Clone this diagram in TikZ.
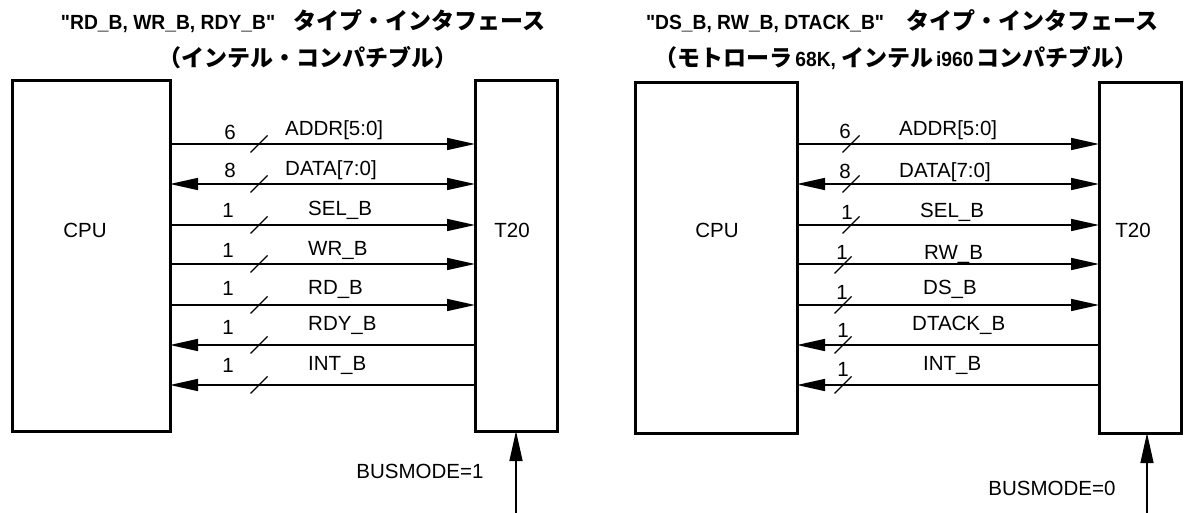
\documentclass[tikz,border=0pt]{standalone}
\usepackage{fontspec}
\setmainfont{Liberation Sans}[Ligatures=TeXOff]
\newfontfamily\jp{Noto Sans CJK JP}
\newfontfamily\ttlfont{Liberation Sans}[Ligatures=TeXOff, FakeStretch=0.94]
\usetikzlibrary{arrows.meta}
\tikzset{
  box/.style={draw, line width=3pt, inner sep=0pt, outer sep=0pt},
  lbl/.style={font=\fontsize{20.5}{24}\selectfont, inner sep=0pt, anchor=base west},
  num/.style={font=\fontsize{20.5}{24}\selectfont, inner sep=0pt, anchor=base},
  ttl/.style={font=\ttlfont\fontsize{20.5}{22}\selectfont\bfseries, inner sep=0pt, anchor=base},
  bus/.style={line width=1.6pt},
  tipR/.style={-{Triangle[length=28pt,width=12pt]}},
  tipL/.style={{Triangle[length=28pt,width=12pt]}-},
  tipB/.style={{Triangle[length=28pt,width=12pt]}-{Triangle[length=28pt,width=12pt]}},
  slash/.style={line width=1.3pt},
  mode/.style={line width=1.3pt, -{Triangle[length=30pt,width=13pt]}},
}
\newcommand{\jpt}[1]{{\jp\fontsize{23}{26}\selectfont #1}}
\begin{document}
\begin{tikzpicture}[x=1pt,y=-1pt]
\useasboundingbox (0,0) rectangle (1184,513);
% titles
\node[ttl] (t1a) at (303,30) {"RD\_B, WR\_B, RDY\_B"\hspace{18pt}\jpt{タイプ・インタフェース}};
\node[ttl] (t1b) at (308,67) {\jpt{（インテル・コンパチブル）}};
\node[ttl] (t2a) at (902,30) {"DS\_B, RW\_B, DTACK\_B"\hspace{22pt}\jpt{タイプ・インタフェース}};
\node[ttl] (t2b) at (896,67) {\jpt{（モトローラ}\hspace{3pt}68K,\hspace{5pt}\jpt{インテル}\hspace{3pt}i960\hspace{3pt}\jpt{コンパチブル）}};
% boxes
\node[box, minimum width=158pt, minimum height=350pt] (cpuL) at (91,256) {};
\node[box, minimum width=82pt, minimum height=350pt] (t20L) at (516,256) {};
\node[box, minimum width=162pt, minimum height=350pt] (cpuR) at (716,258) {};
\node[box, minimum width=82pt, minimum height=350pt] (t20R) at (1140,258) {};
\node[num] (cpuLt) at (85,237.3) {CPU};
\node[num] (t20Lt) at (512,237.3) {T20};
\node[num] (cpuRt) at (717,237.3) {CPU};
\node[num] (t20Rt) at (1133,237.3) {T20};
% row coordinates
\foreach \i/\y in {1/144,2/184,3/225,4/264,5/305,6/345,7/385} {
  \coordinate (r\i) at (0,\y);
}
% left buses
\draw[bus,tipR] (cpuL.east |- r1) -- (t20L.west |- r1);
\draw[bus,tipB] (cpuL.east |- r2) -- (t20L.west |- r2);
\draw[bus,tipR] (cpuL.east |- r3) -- (t20L.west |- r3);
\draw[bus,tipR] (cpuL.east |- r4) -- (t20L.west |- r4);
\draw[bus,tipR] (cpuL.east |- r5) -- (t20L.west |- r5);
\draw[bus,tipL] (cpuL.east |- r6) -- (t20L.west |- r6);
\draw[bus,tipL] (cpuL.east |- r7) -- (t20L.west |- r7);
% right buses
\draw[bus,tipR] (cpuR.east |- r1) -- (t20R.west |- r1);
\draw[bus,tipB] (cpuR.east |- r2) -- (t20R.west |- r2);
\draw[bus,tipR] (cpuR.east |- r3) -- (t20R.west |- r3);
\draw[bus,tipR] (cpuR.east |- r4) -- (t20R.west |- r4);
\draw[bus,tipR] (cpuR.east |- r5) -- (t20R.west |- r5);
\draw[bus,tipL] (cpuR.east |- r6) -- (t20R.west |- r6);
\draw[bus,tipL] (cpuR.east |- r7) -- (t20R.west |- r7);
% slashes left
\foreach \y in {144,184,225,264,305,345,385} {
  \draw[slash] (259,\y) +(-8.5,8.5) -- +(8.5,-8.5);
}
% slashes right
\foreach \x/\y in {851/144,851/184,851/225,843/265,843/305,843/345,843/385} {
  \draw[slash] (\x,\y) +(-8.5,8.5) -- +(8.5,-8.5);
}
% numbers left
\foreach \x/\y/\t in {230/132/6,230/170/8,228/210/1,228/250/1,228/288/1,228/327/1,228/365/1} {
  \node[num] at (\x,\y+7.3) {\t};
}
% numbers right
\foreach \x/\y/\t in {845/131/6,845/171/8,847/212/1,842/252/1,842/292/1,843/330/1,843/369/1} {
  \node[num] at (\x,\y+7.3) {\t};
}
% labels left
\node[lbl] (lA) at (285,135.3) {ADDR[5:0]};
\node[lbl] (lD) at (285,175.3) {DATA[7:0]};
\node[lbl] (lS) at (308,215.3) {SEL\_B};
\node[lbl] (lW) at (308,255.3) {WR\_B};
\node[lbl] (lR) at (308,294.3) {RD\_B};
\node[lbl] (lY) at (308,330.3) {RDY\_B};
\node[lbl] (lI) at (308,370.3) {INT\_B};
% labels right
\node[lbl] (rA) at (899,135.3) {ADDR[5:0]};
\node[lbl] (rD) at (899,177.3) {DATA[7:0]};
\node[lbl] (rS) at (920,217.3) {SEL\_B};
\node[lbl] (rW) at (924,259.3) {RW\_B};
\node[lbl] (rR) at (923,294.3) {DS\_B};
\node[lbl] (rY) at (912,330.3) {DTACK\_B};
\node[lbl] (rI) at (923,370.3) {INT\_B};
% busmode
\coordinate (bmL) at (516,513);
\coordinate (bmR) at (1147,513);
\draw[mode] (bmL) -- (bmL |- t20L.south);
\draw[mode] (bmR) -- (bmR |- t20R.south);
\node[num] (bmLt) at (420,478.3) {BUSMODE=1};
\node[num] (bmRt) at (1052,495.3) {BUSMODE=0};
\end{tikzpicture}
\end{document}
